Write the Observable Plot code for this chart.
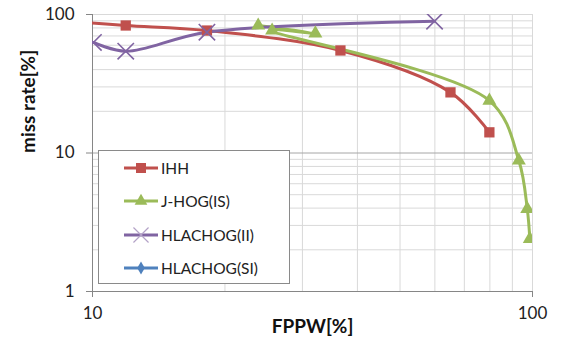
<!DOCTYPE html>
<html>
<head>
<meta charset="utf-8">
<script src="https://cdn.jsdelivr.net/npm/d3@7"></script>
<script src="https://cdn.jsdelivr.net/npm/@observablehq/plot@0.6"></script>
<style>
  html, body { margin: 0; padding: 0; background: #fff; }
  #wrap { position: relative; width: 562px; height: 349px; font-family: Lato, "Open Sans", sans-serif; }
  #legend { position: absolute; left: 98px; top: 150px; width: 190px; height: 132px; background: #fff; border: 1px solid #8a8a8a; }
  .item { position: absolute; left: 25px; height: 20px; display: flex; align-items: center; font-size: 15.5px; color: #222; }
  .item svg { margin-right: 3px; }
</style>
</head>
<body>
<div id="wrap"><div id="legend"></div></div>
<script>
// ---- data ----
const seriesNames = ["IHH", "J-HOG(IS)", "HLACHOG(II)", "HLACHOG(SI)"];
const seriesColors = ["#C0504D", "#9BBB59", "#8064A2", "#4F81BD"];
const seriesSymbols = ["square", "triangle", "times", "diamond"];

const ihhFPPW  = [9, 11.9, 18.2, 36.6, 65.1, 79.8];
const ihhMiss  = [89, 83.3, 76.6, 55, 27.4, 14.1];

const jhogFPPW = [23.8, 32.1, 25.6, 79.8, 93.1, 97.3, 98.6];
const jhogMiss = [83.3, 73.0, 76.6, 23.9, 8.83, 3.95, 2.40];

const hlaIIFPPW = [10.05, 11.9, 18.2, 59.9];
const hlaIIMiss = [62.8, 54.3, 74.5, 89.5];

const hlaSIFPPW = [];
const hlaSIMiss = [];

const xTicks = [10, 100];
const yTicks = [1, 10, 100];
const xGrid = [10, 20, 30, 40, 50, 60, 70, 80, 90, 100];
const yGrid = [1, 2, 3, 4, 5, 6, 7, 8, 9, 10, 20, 30, 40, 50, 60, 70, 80, 90, 100];

// ---- build table ----
const allX = [ihhFPPW, jhogFPPW, hlaIIFPPW, hlaSIFPPW];
const allY = [ihhMiss, jhogMiss, hlaIIMiss, hlaSIMiss];
const series = seriesNames.map((name, i) => ({
  name, color: seriesColors[i], symbol: seriesSymbols[i],
  data: allX[i].map((x, j) => ({x, y: allY[i][j], name}))
}));

const marks = [
  Plot.ruleX(xGrid, {y1: 1, y2: 100, stroke: "#d9d9d9", strokeWidth: 1}),
  Plot.ruleY(yGrid.filter(d => d !== 10), {x1: 10, x2: 100, stroke: "#d9d9d9", strokeWidth: 1}),
  Plot.ruleY([10], {x1: 10, x2: 100, stroke: "#a6a6a6", strokeWidth: 1}),
  Plot.ruleX([10], {y1: 1, y2: 100, stroke: "#868686", strokeWidth: 1}),
  Plot.ruleY([1], {x1: 10, x2: 100, stroke: "#868686", strokeWidth: 1}),
  Plot.axisY({ticks: yTicks, tickFormat: d => String(d), tickSize: 6, tickPadding: 12, fontSize: 17, stroke: "#868686", color: "#222", label: null}),
  Plot.axisX({ticks: xTicks, tickFormat: d => String(d), tickSize: 6, tickPadding: 9, fontSize: 17, stroke: "#868686", color: "#222", label: null})
];
for (const s of series) {
  if (!s.data.length) continue;
  marks.push(Plot.line(s.data, {x: "x", y: "y", stroke: s.color, strokeWidth: 3, curve: "catmull-rom", clip: true}));
}
for (const s of series) {
  if (!s.data.length) continue;
  if (s.symbol === "times") {
    marks.push(Plot.dot(s.data, {x: "x", y: "y", symbol: "times", r: 7.5, stroke: s.color, strokeWidth: 1.6, fill: "none", clip: true}));
  } else {
    marks.push(Plot.dot(s.data, {x: "x", y: "y", symbol: s.symbol, r: s.symbol === "square" ? 5.8 : 5.2, fill: s.color, stroke: "none", clip: true}));
  }
}

const chart = Plot.plot({
  width: 562, height: 349,
  marginLeft: 92, marginRight: 30, marginTop: 14, marginBottom: 58,
  style: {fontFamily: "Lato, 'Open Sans', sans-serif", background: "#fff", overflow: "visible"},
  x: {type: "log", domain: [10, 100]},
  y: {type: "log", domain: [1, 100]},
  marks: [
    ...marks,
    Plot.text(["FPPW[%]"], {frameAnchor: "bottom", dy: 41, fontSize: 19, fontWeight: "bold", fill: "#111"}),
    Plot.text(["miss rate[%]"], {frameAnchor: "left", dx: -64, rotate: -90, fontSize: 19, fontWeight: "bold", fill: "#111"})
  ]
});
document.getElementById("wrap").prepend(chart);

// ---- legend ----
const legend = document.getElementById("legend");
series.forEach((s, i) => {
  const item = document.createElement("div");
  item.className = "item";
  item.style.top = (7 + i * 33.3) + "px";
  const sw = d3.create("svg").attr("width", 34).attr("height", 20);
  sw.append("line").attr("x1", 0).attr("x2", 34).attr("y1", 10).attr("y2", 10).attr("stroke", s.color).attr("stroke-width", 3);
  const symMap = {square: d3.symbolSquare, triangle: d3.symbolTriangle, times: d3.symbolTimes, diamond: d3.symbolDiamond};
  const sizes = {square: 100, triangle: 70, times: 150, diamond: 50};
  const p = sw.append("path").attr("transform", "translate(17,10)").attr("d", d3.symbol(symMap[s.symbol], sizes[s.symbol])());
  if (s.symbol === "times") p.attr("fill", "none").attr("stroke", "#b3a2c7").attr("stroke-width", 1.2);
  else p.attr("fill", s.color);
  item.appendChild(sw.node());
  const t = document.createElement("span");
  t.textContent = s.name;
  item.appendChild(t);
  legend.appendChild(item);
});
</script>
</body>
</html>
